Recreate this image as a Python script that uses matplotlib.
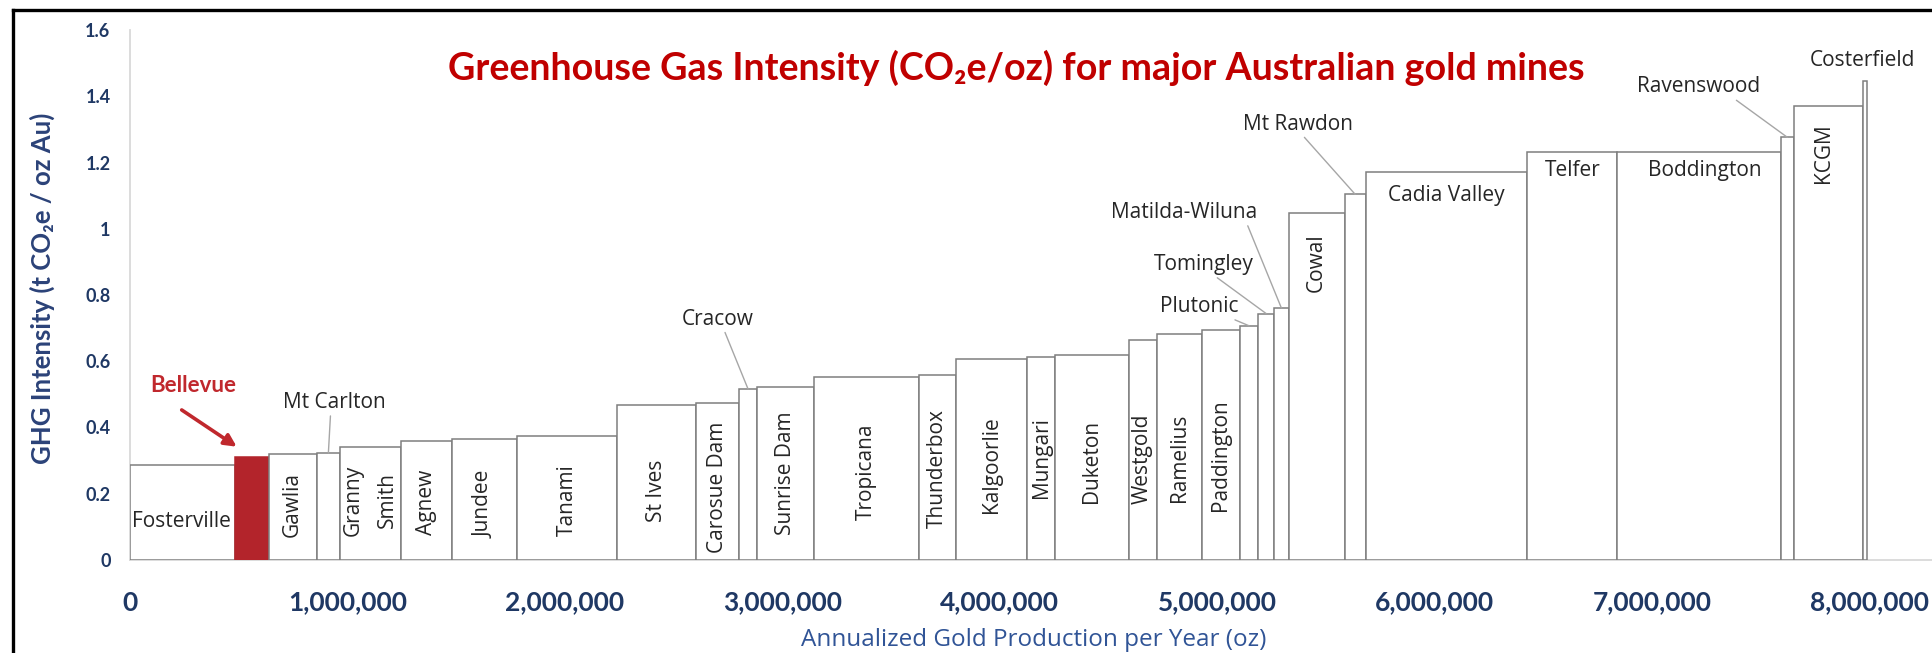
import matplotlib
matplotlib.use("Agg")
import matplotlib.pyplot as plt
from matplotlib.lines import Line2D
import numpy as np

# ---------------- data ----------------
mines = ["Fosterville", "Bellevue", "Gawlia", "Mt Carlton", "Granny Smith", "Agnew",
         "Jundee", "Tanami", "St Ives", "Carosue Dam", "Cracow", "Sunrise Dam",
         "Tropicana", "Thunderbox", "Kalgoorlie", "Mungari", "Duketon", "Westgold",
         "Ramelius", "Paddington", "Plutonic", "Tomingley", "Matilda-Wiluna", "Cowal",
         "Mt Rawdon", "Cadia Valley", "Telfer", "Boddington", "Ravenswood", "KCGM",
         "Costerfield"]
production_oz = [482000, 156000, 221000, 107000, 281000, 236000,
                 296000, 463000, 363000, 198000, 80000, 264000,
                 483000, 170000, 327000, 130000, 336000, 129000,
                 207000, 177000, 83000, 74000, 66000, 258000,
                 97000, 744000, 411000, 754000, 61000, 319000,
                 18000]
intensity = [0.286, 0.312, 0.321, 0.323, 0.340, 0.358,
             0.364, 0.375, 0.468, 0.475, 0.516, 0.523,
             0.553, 0.559, 0.608, 0.614, 0.620, 0.663,
             0.682, 0.693, 0.707, 0.744, 0.761, 1.049,
             1.104, 1.170, 1.233, 1.233, 1.276, 1.371,
             1.446]
highlight = "Bellevue"
x_ticks = [0, 1000000, 2000000, 3000000, 4000000, 5000000, 6000000, 7000000, 8000000]
y_ticks = [0, 0.2, 0.4, 0.6, 0.8, 1.0, 1.2, 1.4, 1.6]

# ---------------- label layout (text placement only) ----------------
rotated_y = {"Gawlia": 0.169, "Granny Smith": 0.181, "Agnew": 0.175, "Jundee": 0.169,
             "Tanami": 0.181, "St Ives": 0.208, "Carosue Dam": 0.218, "Sunrise Dam": 0.263,
             "Tropicana": 0.266, "Thunderbox": 0.275, "Kalgoorlie": 0.287, "Mungari": 0.308,
             "Duketon": 0.299, "Westgold": 0.305, "Ramelius": 0.308, "Paddington": 0.317,
             "Cowal": 0.898, "KCGM": 1.229}
inside_xy = {"Fosterville": (0.238e6, 0.116), "Cadia Valley": (6.053e6, 1.100),
             "Telfer": (6.638e6, 1.175), "Boddington": (7.243e6, 1.177)}
callouts = {"Mt Carlton": (0.9416e6, 0.475, 0.46), "Cracow": (2.702e6, 0.727, 0.59),
            "Plutonic": (4.917e6, 0.765, 0.875), "Tomingley": (4.938e6, 0.892, 0.60),
            "Matilda-Wiluna": (4.847e6, 1.049, 0.93), "Mt Rawdon": (5.373e6, 1.316, 0.535),
            "Ravenswood": (7.213e6, 1.428, 0.78), "Costerfield": (7.969e6, 1.509, None)}
display = {"Granny Smith": "Granny\nSmith"}

# ---------------- figure ----------------
W, H = 1933, 653
fig = plt.figure(figsize=(W / 100, H / 100), dpi=100)
fig.patch.set_facecolor("white")
x0_px, y0_px, ytop_px, px_per_m = 130, 560, 30, 217.4
ax = fig.add_axes([x0_px / W, (H - y0_px) / H, (W - x0_px) / W, (y0_px - ytop_px) / H])
ax.set_xlim(0, (W - x0_px) / px_per_m * 1e6)
ax.set_ylim(0, 1.6)

prod = np.array(production_oz, dtype=float)
lefts = np.concatenate([[0], np.cumsum(prod)[:-1]])
centers = lefts + prod / 2
red = "#B3242B"
face = [red if m == highlight else "white" for m in mines]
edge = [red if m == highlight else "#7F7F7F" for m in mines]
ax.bar(lefts, intensity, width=prod, align="edge", color=face, edgecolor=edge,
       linewidth=1.1, zorder=2)

for s in ["top", "right"]:
    ax.spines[s].set_visible(False)
for s in ["left", "bottom"]:
    ax.spines[s].set_color("#D9D9D9")
    ax.spines[s].set_linewidth(1.3)
    ax.spines[s].set_zorder(1)

navy = "#1F3864"
ax.set_xticks(x_ticks)
ax.set_xticklabels([f"{v:,.0f}" for v in x_ticks])
ax.set_yticks(y_ticks)
ax.set_yticklabels([f"{v:g}" for v in y_ticks])
ax.tick_params(axis="both", length=0)
ax.tick_params(axis="x", pad=22)
ax.tick_params(axis="y", pad=14)
for t in ax.get_xticklabels():
    t.set_fontfamily(["Lato", "DejaVu Sans"]); t.set_fontweight("bold")
    t.set_fontsize(19); t.set_color(navy)
for t in ax.get_yticklabels():
    t.set_fontfamily(["Lato", "DejaVu Sans"]); t.set_fontweight("bold")
    t.set_fontsize(13); t.set_color(navy)

lab_font = dict(family=["Open Sans", "DejaVu Sans"], fontsize=15, color="#262626")
idx = {m: i for i, m in enumerate(mines)}

for m, y in rotated_y.items():
    i = idx[m]
    x = centers[i] if m != "KCGM" else 7.788e6
    ax.text(x, y, display.get(m, m), rotation=90, ha="center", va="center",
            linespacing=1.8, zorder=3, **lab_font)

for m, (x, y) in inside_xy.items():
    ax.text(x, y, m, ha="center", va="center", zorder=3, **lab_font)

for m, (tx, ty, rx) in callouts.items():
    i = idx[m]
    if rx is None:
        ax.text(tx, ty, m, ha="center", va="center", zorder=3, **lab_font)
    else:
        ax.annotate(m, xy=(centers[i], intensity[i]), xytext=(tx, ty),
                    ha="center", va="center", zorder=3,
                    arrowprops=dict(arrowstyle="-", color="#A6A6A6", lw=1.0,
                                    relpos=(rx, 0), shrinkA=0, shrinkB=0),
                    **lab_font)

# Bellevue callout
bi = idx[highlight]
ax.text(0.29e6, 0.528, "Bellevue", ha="center", va="center", fontsize=16,
        fontweight="bold", color="#C0282D", family=["Lato", "DejaVu Sans"])
ax.annotate("", xy=(lefts[bi] + 8800, intensity[bi] + 0.03), xytext=(0.2378e6, 0.453),
            arrowprops=dict(arrowstyle="-|>", color="#C0282D", lw=2.6,
                            mutation_scale=18, shrinkA=0, shrinkB=0))

# titles
fig.text(1016 / W, 1 - 68 / H, "Greenhouse Gas Intensity (CO\u2082e/oz) for major Australian gold mines",
         ha="center", va="center", fontsize=27.1, fontweight="bold", color="#C00000",
         family=["Lato", "DejaVu Sans"])
fig.text(42 / W, 1 - 288 / H, "GHG Intensity (t CO\u2082e / oz Au)", rotation=90,
         ha="center", va="center", fontsize=18.5, fontweight="bold", color="#2B4278",
         family=["Lato", "DejaVu Sans"])
fig.text(1034 / W, 1 - 640 / H, "Annualized Gold Production per Year (oz)",
         ha="center", va="center", fontsize=17.5, color="#305496",
         family=["Open Sans", "DejaVu Sans"])

# outer frame (left & top visible)
fig.add_artist(Line2D([12.7 / W, 12.7 / W], [0, 1 - 9.7 / H], color="black", lw=2.4,
                      transform=fig.transFigure))
fig.add_artist(Line2D([12.7 / W, 1], [1 - 9.7 / H, 1 - 9.7 / H], color="black", lw=2.4,
                      transform=fig.transFigure))

fig.savefig("out.png", dpi=100)
